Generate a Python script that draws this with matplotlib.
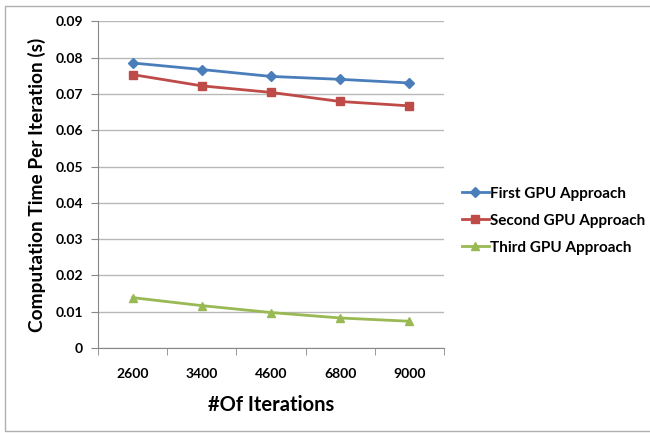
import matplotlib
matplotlib.use("Agg")
import matplotlib.pyplot as plt
from matplotlib.lines import Line2D

categories = ["2600", "3400", "4600", "6800", "9000"]
first = [0.0785, 0.0767, 0.0748, 0.0740, 0.0730]
second = [0.0753, 0.0722, 0.0704, 0.0679, 0.0667]
third = [0.0139, 0.0117, 0.0098, 0.0083, 0.0074]
series_names = ["First GPU Approach", "Second GPU Approach", "Third GPU Approach"]
y_ticks = [0, 0.01, 0.02, 0.03, 0.04, 0.05, 0.06, 0.07, 0.08, 0.09]

plt.rcParams['font.family'] = ['Lato', 'DejaVu Sans']
plt.rcParams['font.weight'] = 'bold'

fig = plt.figure(figsize=(6.5, 4.33), dpi=100)
# chart frame (top, left, bottom edges visible)
fx0, fx1, fy0, fy1 = 0.008, 1.0, 0.005, 0.987
fig.lines.append(Line2D([fx1, fx0, fx0, fx1], [fy1, fy1, fy0, fy0], transform=fig.transFigure,
                        color='#b0b0b0', linewidth=1))
ax = fig.add_axes([0.151, 0.196, 0.532, 0.755])

x = list(range(len(categories)))
ax.plot(x, first, color='#4A7EBB', marker='D', markersize=5, linewidth=2, label=series_names[0])
ax.plot(x, second, color='#BE4B48', marker='s', markersize=6, linewidth=2, label=series_names[1])
ax.plot(x, third, color='#98B954', marker='^', markersize=6, linewidth=2, label=series_names[2])

ax.set_xlim(-0.5, len(categories) - 0.5)
ax.set_ylim(0, 0.09)
ax.set_yticks(y_ticks)
ax.set_yticklabels([f"{v:g}" if v != 0 else "0" for v in y_ticks], fontsize=10, fontweight='bold')
ax.set_xticks(x)
ax.set_xticklabels(categories, fontsize=10, fontweight='bold')
ax.tick_params(axis='x', length=0, pad=14)
ax.set_xticks([i - 0.5 for i in range(len(categories) + 1)], minor=True)
ax.tick_params(axis='x', which='minor', length=5, color='#888888', direction='out')
ax.tick_params(axis='y', length=5, color='#888888', pad=6)

ax.yaxis.grid(True, color='#b8b8b8', linewidth=1)
ax.set_axisbelow(True)
for s in ['top', 'right']:
    ax.spines[s].set_visible(False)
for s in ['left', 'bottom']:
    ax.spines[s].set_color('#888888')

ax.set_xlabel("#Of Iterations", fontsize=14.5, fontweight='bold', labelpad=11)
ax.set_ylabel("Computation Time Per Iteration (s)", fontsize=13.8, fontweight='bold', labelpad=7)

leg = ax.legend(loc='center left', bbox_to_anchor=(1.012, 0.39), frameon=False,
                handlelength=1.75, handletextpad=0.1, labelspacing=0.85,
                prop={'weight': 'bold', 'size': 11})

fig.savefig("out.png", dpi=100)
